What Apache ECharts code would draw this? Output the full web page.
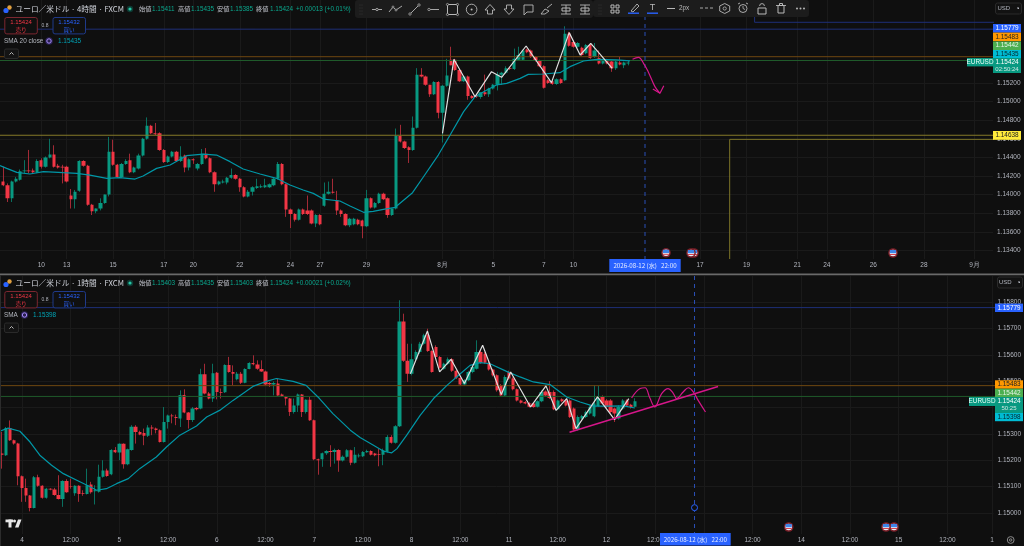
<!DOCTYPE html>
<html><head><meta charset="utf-8">
<style>html,body{margin:0;padding:0;background:#0f0f0f}#c{width:1024px;height:546px}</style>
<script src="https://cdn.jsdelivr.net/npm/echarts@6/dist/echarts.min.js"></script></head>
<body><div id="c"></div>
<script>
// ---- 4h pane: [open, close, low, high] in 1e-4 price units
const bars4h=[
[11414,11410,11409,11430],[11410,11396,11392,11412],[11396,11414,11392,11415],[11414,11417,11413,11419],[11416,11425,11415,11427],
[11425,11426,11423,11437],[11426,11425,11423,11448],[11426,11424,11423,11428],[11424,11436,11423,11438],[11437,11430,11428,11439],
[11430,11440,11429,11441],[11440,11443,11439,11460],[11443,11430,11429,11453],[11431,11429,11428,11433],[11430,11429,11412,11432],
[11430,11414,11413,11431],[11399,11395,11385,11406],[11395,11403,11385,11405],[11404,11436,11403,11437],[11436,11431,11430,11437],
[11431,11389,11388,11432],[11389,11382,11378,11390],[11382,11385,11380,11385],[11385,11391,11383,11396],[11391,11400,11390,11400],
[11400,11446,11398,11462],[11446,11432,11431,11459],[11432,11419,11418,11433],[11419,11433,11418,11434],[11433,11436,11432,11438],
[11437,11424,11423,11444],[11424,11429,11423,11430],[11428,11442,11427,11444],[11442,11460,11441,11461],[11460,11474,11459,11483],
[11474,11466,11465,11475],[11466,11465,11464,11477],[11466,11448,11447,11467],[11448,11435,11434,11449],[11435,11441,11434,11442],
[11441,11446,11440,11447],[11446,11436,11435,11447],[11436,11441,11435,11452],[11442,11429,11424,11443],[11429,11438,11426,11439],
[11438,11437,11433,11439],[11428,11433,11426,11434],[11433,11444,11432,11449],[11444,11439,11438,11450],[11439,11424,11423,11440],
[11424,11411,11403,11425],[11411,11414,11410,11415],[11413,11414,11412,11416],[11413,11418,11411,11419],[11418,11421,11417,11428],
[11421,11417,11416,11422],[11417,11408,11403,11418],[11408,11398,11397,11409],[11398,11403,11397,11405],[11403,11408,11399,11409],
[11407,11409,11406,11417],[11408,11409,11407,11411],[11408,11410,11407,11417],[11408,11411,11407,11412],[11410,11417,11409,11418],
[11417,11433,11416,11435],[11433,11411,11410,11434],[11411,11384,11376,11412],[11384,11379,11364,11385],[11379,11373,11371,11380],
[11373,11384,11372,11385],[11384,11379,11378,11385],[11383,11379,11378,11399],[11383,11369,11368,11384],[11369,11378,11365,11379],
[11378,11368,11367,11379],[11388,11401,11387,11413],[11401,11403,11400,11414],[11403,11402,11401,11417],[11394,11383,11378,11404],
[11383,11379,11376,11384],[11379,11367,11366,11380],[11367,11374,11365,11375],[11368,11374,11367,11375],[11373,11368,11367,11374],
[11372,11366,11353,11373],[11366,11396,11365,11405],[11396,11386,11385,11397],[11386,11391,11385,11392],[11391,11401,11390,11402],
[11401,11395,11394,11402],[11396,11378,11375,11397],[11378,11385,11377,11385],[11385,11463,11384,11471],[11463,11457,11456,11475],
[11457,11450,11449,11458],[11451,11448,11434,11452],[11448,11472,11447,11484],[11472,11529,11471,11536],[11529,11527,11526,11536],
[11527,11518,11517,11528],[11518,11508,11505,11518],[11508,11521,11507,11522],[11521,11488,11482,11522],[11488,11517,11456,11518],
[11517,11528,11516,11546],[11545,11539,11539,11559],[11545,11534,11533,11546],[11534,11522,11521,11535],[11522,11527,11521,11528],
[11527,11506,11502,11528],[11506,11504,11503,11507],[11507,11505,11504,11508],[11505,11510,11503,11510],[11510,11508,11506,11529],
[11508,11514,11505,11515],[11514,11518,11513,11519],[11518,11529,11512,11532],[11529,11531,11518,11532],[11531,11536,11530,11538],
[11536,11535,11534,11537],[11535,11546,11534,11557],[11545,11550,11544,11559],[11545,11555,11544,11556],[11556,11553,11552,11557],
[11555,11548,11547,11556],[11548,11544,11543,11549],[11544,11538,11537,11545],[11538,11515,11514,11539],[11523,11520,11519,11524],
[11522,11519,11518,11523],[11519,11524,11518,11525],[11524,11520,11519,11525],[11523,11573,11522,11581],[11573,11560,11559,11575],
[11564,11559,11558,11566],[11559,11563,11558,11564],[11558,11550,11549,11559],[11552,11561,11551,11562],[11561,11547,11546,11562],
[11548,11555,11547,11563],[11547,11541,11540,11555],[11541,11545,11540,11546],[11545,11541,11540,11546],[11543,11536,11532,11544],
[11536,11543,11534,11544],[11542,11540,11539,11548],[11539,11542,11536,11543],[11541,11542,11539,11544]];
// ---- 1h pane: [open, close, low, high] in 1e-5 price units
const bars1h=[
[115225,115221,115168,115307],[115219,115322,115216,115326],[115322,115276,115273,115351],[115276,115263,115259,115278],[115263,115139,115105,115266],
[115139,115095,115042,115142],[115095,115066,115042,115130],[115066,115019,115006,115068],[115019,115135,115017,115140],[115135,115103,115099,115145],
[115103,115058,115054,115105],[115058,115092,115054,115095],[115092,115089,115086,115094],[115089,115068,115065,115095],[115068,115053,115051,115143],
[115053,115121,115023,115124],[115121,115078,115076,115128],[115101,115099,115092,115130],[115075,115103,115065,115105],[115103,115072,115042,115105],
[115075,115072,115065,115086],[115072,115105,115070,115168],[115108,115078,115073,115118],[115082,115086,115032,115105],[115080,115137,115077,115183],
[115137,115161,115134,115200],[115161,115140,115137,115168],[115147,115239,115143,115242],[115239,115230,115227,115250],[115229,115262,115200,115264],
[115262,115185,115168,115264],[115185,115242,115181,115244],[115239,115327,115236,115333],[115327,115307,115263,115333],[115307,115298,115295,115312],
[115303,115293,115257,115320],[115293,115324,115288,115333],[115324,115320,115295,115333],[115320,115315,115302,115324],[115314,115269,115267,115317],
[115269,115345,115267,115402],[115345,115370,115320,115373],[115370,115367,115340,115376],[115364,115360,115333,115373],[115358,115447,115326,115465],
[115447,115381,115378,115469],[115381,115353,115320,115383],[115353,115396,115345,115402],[115398,115393,115389,115402],[115396,115526,115393,115547],
[115526,115453,115450,115566],[115453,115434,115431,115459],[115434,115530,115421,115566],[115532,115459,115431,115535],[115459,115456,115434,115472],
[115458,115561,115455,115564],[115561,115535,115532,115592],[115535,115528,115484,115560],[115507,115528,115503,115535],[115528,115494,115489,115535],
[115494,115546,115492,115549],[115546,115569,115545,115572],[115569,115564,115560,115598],[115563,115547,115543,115579],[115546,115537,115535,115579],
[115537,115487,115484,115540],[115493,115488,115478,115497],[115487,115493,115446,115499],[115491,115446,115444,115510],[115449,115443,115440,115453],
[115440,115434,115408,115444],[115434,115383,115368,115436],[115383,115408,115377,115434],[115408,115449,115383,115453],[115449,115383,115364,115451],
[115383,115429,115377,115431],[115429,115352,115349,115440],[115352,115204,115200,115354],[115204,115200,115145,115206],[115204,115226,115175,115229],
[115226,115235,115220,115238],[115235,115231,115175,115257],[115231,115239,115187,115244],[115239,115199,115156,115242],
[115199,115213,115195,115218],[115213,115238,115210,115242],[115238,115190,115181,115240],[115190,115221,115187,115250],[115215,115218,115210,115225],
[115215,115231,115212,115235],[115230,115235,115228,115240],[115235,115221,115218,115238],[115225,115219,115215,115228],[115224,115221,115177,115244],
[115221,115238,115181,115244],[115232,115288,115229,115295],[115288,115266,115263,115295],[115266,115329,115263,115333],[115329,115726,115326,115807],
[115726,115577,115573,115756],[115577,115528,115497,115642],[115528,115583,115522,115642],[115583,115611,115579,115617],[115611,115642,115604,115649],
[115642,115674,115638,115680],[115674,115614,115611,115699],[115614,115535,115532,115617],[115630,115592,115588,115636],[115592,115551,115548,115595],
[115547,115566,115543,115570],[115566,115583,115562,115590],[115583,115539,115535,115588],[115539,115512,115508,115542],[115512,115487,115484,115515],
[115487,115503,115482,115507],[115503,115535,115500,115539],[115535,115554,115530,115558],[115547,115611,115544,115655],[115611,115570,115566,115620],
[115604,115570,115566,115610],[115570,115544,115540,115575],[115544,115522,115518,115547],[115522,115465,115460,115526],[115484,115446,115442,115489],
[115446,115516,115444,115522],[115535,115510,115505,115540],[115510,115469,115465,115515],[115469,115427,115423,115472],[115427,115418,115415,115430],
[115421,115415,115412,115425],[115417,115403,115400,115420],[115415,115402,115399,115418],[115403,115424,115400,115427],[115424,115459,115420,115465],
[115461,115446,115442,115465],[115459,115436,115432,115500],[115459,115393,115390,115465],[115393,115427,115390,115430],[115431,115424,115420,115435],
[115427,115408,115404,115431],[115427,115364,115360,115431],[115396,115317,115313,115400],[115317,115364,115312,115370],[115358,115368,115355,115372],
[115364,115383,115360,115388],[115377,115402,115373,115408],[115367,115415,115363,115484],[115406,115436,115403,115482],[115440,115415,115411,115446],
[115427,115402,115398,115432],[115427,115383,115379,115432],[115396,115377,115345,115400],[115358,115402,115354,115408],[115396,115427,115392,115432],
[115427,115408,115404,115431],[115410,115402,115396,115414],[115403,115424,115403,115435]];
// ---- overlay lines: [bar index, price in 1e-5]
const sma4h=[[0.21,114311],[1.8,114282],[4.2,114239],[7.3,114221],[10.5,114246],[15.2,114235],[18.4,114228],[21.5,114210],[25.5,114175],[28.6,114182],[32.2,114167],[34.1,114200],[37.3,114282],[40.5,114318],[44.4,114418],[48.4,114436],[51.5,114425],[54.7,114354],[57.8,114275],[61.8,114221],[65.7,114175],[68.9,114103],[72,114049],[74.4,114013],[76.8,113952],[80.7,113931],[83.1,113877],[86.3,113809],[88.6,113820],[91,113841],[93.8,113863],[97.9,114020],[100.5,114192],[104,114425],[106.8,114641],[110,114892],[112.7,115053],[115.5,115125],[117.8,115179],[120.2,115196],[123.4,115250],[125.3,115293],[128.9,115297],[132.8,115311],[135.2,115376],[138.4,115437],[141.5,115455],[146.2,115448],[149.4,115437]];
const sma1h=[[-0.4,115310],[1.6,115322],[4.5,115310],[7,115269],[9.4,115219],[12.3,115181],[15.2,115149],[18.5,115124],[21.3,115103],[23.4,115086],[25.8,115092],[28.3,115111],[31.2,115130],[34,115168],[38.1,115212],[40.6,115250],[43.9,115295],[48,115330],[50.5,115364],[53.7,115389],[57,115427],[61.9,115480],[65.2,115499],[67.7,115510],[71.8,115499],[75,115484],[78.3,115434],[81.6,115377],[83.3,115352],[85.9,115314],[88.3,115286],[91.6,115257],[94.1,115234],[96.1,115228],[97.4,115244],[99.8,115295],[103.1,115370],[106.4,115434],[109.7,115484],[113,115528],[115.4,115560],[117.9,115570],[120.3,115566],[124.4,115537],[127.7,115516],[131,115497],[135.1,115487],[139.2,115440],[142.5,115421],[145.8,115405],[149,115405],[153.2,115406],[156,115398]];
const zig4h=[[105,114659],[107.7,115455],[112.7,115053],[116.6,115322],[119,115261],[124.8,115598],[130.8,115204],[135,115742],[137.6,115501],[140.1,115627],[145.2,115358]];
const zig1h=[[100.7,115528],[104.9,115690],[107.9,115535],[110.7,115583],[114,115491],[118.5,115636],[123.1,115449],[125.4,115535],[130.3,115402],[134.1,115482],[136.6,115389],[139.2,115434],[141.5,115320],[146.8,115440],[151,115354],[154.5,115434]];
const curve4h=[[150,115455],[151.4,115476],[152.6,115412],[153.7,115322],[155.3,115161],[156.5,115089]];
const arrow4h=[[154.8,115136],[156.5,115089],[157.4,115171]];
const trend1h=[[139.9,115306],[176.5,115480]];
const curve1h=[[155.2,115436],[157.3,115472],[158.5,115475],[159.7,115436],[160.9,115402],[162.6,115453],[164.2,115472],[165.5,115453],[166.3,115434],[167.9,115459],[169.2,115475],[170.4,115459],[171.6,115427],[173.4,115383]];
const corner4hYellow=[[173,113307],[173,114594],[236,114594]];
const corner4hBlue=[[178.9,116093],[178.9,115853],[236,115853]];
const vLine4h=[[152.95,116093],[152.95,113307]];
const vLine1h=[[170.7,115899],[170.7,114920]];
const marker1h=[[170.7,115020]];
const levels4h=[[115779,'#1e2f78'],[115483,'#6e4710'],[115442,'#1f5a2a'],[114638,'#857a28']];
const levels1h=[[115779,'#1e2f78'],[115483,'#6e4710'],[115442,'#1f5a2a']];
// ---- axis ticks
const ticks4h=[[10,'10'],[16,'13'],[27,'15'],[39,'17'],[46,'20'],[57,'22'],[69,'24'],[76,'27'],[87,'29'],[105,'8月'],[117,'5'],[129,'7'],[136,'10'],[166,'17'],[177,'19'],[189,'21'],[196,'24'],[207,'26'],[219,'28'],[231,'9月']];
const ticks1h=[[5,'4'],[17,'12:00'],[29,'5'],[41,'12:00'],[53,'6'],[65,'12:00'],[77,'7'],[89,'12:00'],[101,'8'],[113,'12:00'],[125,'11'],[137,'12:00'],[149,'12'],[161,'12:00'],[173,'13'],[185,'12:00'],[197,'14'],[209,'12:00'],[221,'15'],[233,'12:00'],[244,'1']];
const prices4h=[1.134,1.136,1.138,1.14,1.142,1.144,1.146,1.148,1.15,1.152];
const prices1h=[1.15,1.151,1.152,1.153,1.154,1.155,1.156,1.157,1.158];

const UP='#089981',DN='#f23645',UPW='#0a6f5f',DNW='#a32a36',BG='#0f0f0f',GRID='#1a1a1a',TXT='#b2b5be',MAG='#d6168a',TEAL='#0097a7';
const SANS='"Liberation Sans",Arial,sans-serif',JP='"Noto Sans CJK JP",sans-serif';
const pr=p=>[p[0],p[1]/1e5];
function line(xi,pts,color,w,extra){return Object.assign({type:'line',xAxisIndex:xi,yAxisIndex:xi,data:pts.map(pr),symbol:'none',silent:true,animation:false,lineStyle:{color,width:w},z:3},extra||{})}
// wicks are one thin candlestick layer, bodies a second layer with no outline
function candles(xi,bars,base,div){const data=bars.map((b,i)=>[i+base,b[0]/div,b[1]/div,b[2]/div,b[3]/div]);
 const common={type:'candlestick',xAxisIndex:xi,yAxisIndex:xi,animation:false,silent:true,encode:{x:0,y:[1,2,3,4]},data};
 return [Object.assign({},common,{barWidth:1,z:2,itemStyle:{color:UPW,color0:DNW,borderColor:UPW,borderColor0:DNW,borderWidth:1}}),
         Object.assign({},common,{barWidth:3.8,z:2.5,itemStyle:{color:UP,color0:DN,borderWidth:0,borderColor:UP,borderColor0:DN}})];}
function xAxis(gi,min,max,ticks){const m=new Map(ticks);const v=ticks.map(t=>t[0]);return {type:'value',gridIndex:gi,min,max,
 axisLine:{show:false},axisTick:{show:false,customValues:v},splitLine:{show:true,lineStyle:{color:GRID,width:1}},
 axisLabel:{customValues:v,color:TXT,fontSize:6.5,fontFamily:SANS,margin:3,formatter:x=>m.get(x)||''}}}
function yAxis(gi,min,max,vals){return {type:'value',gridIndex:gi,position:'right',min,max,axisLine:{show:false},axisTick:{show:false,customValues:vals},
 splitLine:{show:true,lineStyle:{color:GRID,width:1}},axisLabel:{customValues:vals,color:TXT,fontSize:6.5,fontFamily:SANS,margin:4,formatter:v=>v.toFixed(5)}}}

const series=[
 ...levels4h.map(l=>line(0,[[0,l[0]],[236,l[0]]],l[1],1)),
 line(0,corner4hYellow,'#7d7428',1),line(0,corner4hBlue,'#1e2f78',1),
 ...candles(0,bars4h,1,1e4),
 line(0,sma4h,TEAL,1.2,{z:4}),
 line(0,vLine4h,'#2a50b8',1,{lineStyle:{color:'#2a50b8',width:1,type:[4,4]}}),
 line(0,zig4h,'#e0e0e0',1.2,{z:5}),
 line(0,curve4h,MAG,1.2,{smooth:0.4,z:5}),line(0,arrow4h,MAG,1.2,{z:5}),
 ...levels1h.map(l=>line(1,[[-1,l[0]],[245,l[0]]],l[1],1)),
 ...candles(1,bars1h,0,1e5),
 line(1,sma1h,TEAL,1.2,{z:4}),
 line(1,vLine1h,'#2a50b8',1,{lineStyle:{color:'#2a50b8',width:1,type:[4,4]}}),
 line(1,marker1h,'#2962ff',1,{symbol:'circle',symbolSize:6,showSymbol:true,showAllSymbol:true,itemStyle:{color:BG,borderColor:'#2962ff',borderWidth:1},z:6}),
 line(1,zig1h,'#e0e0e0',1.2,{z:5}),
 line(1,trend1h,MAG,1.5,{z:5}),line(1,curve1h,MAG,1.2,{smooth:0.4,z:5})
];

// ---- chrome drawn as graphic elements
const G=[];
const R=(x,y,w,h,fill,stroke,r)=>G.push({type:'rect',shape:{x,y,width:w,height:h,r:r||0},style:{fill:fill||'none',stroke:stroke||'none',lineWidth:1},silent:true});
const T=(x,y,text,fill,size,opt)=>{opt=opt||{};G.push({type:'text',style:{x,y,text,fill,fontSize:size,fontFamily:opt.f||SANS,fontWeight:opt.w||'normal',textAlign:opt.a||'left',textVerticalAlign:'middle'},silent:true})};
const P=(pts,stroke,w,fill)=>G.push({type:fill?'polygon':'polyline',shape:{points:pts},style:{stroke:stroke||'none',lineWidth:w||1,fill:fill||'none'},silent:true});
const C=(x,y,r,fill,stroke,w)=>G.push({type:'circle',shape:{cx:x,cy:y,r},style:{fill:fill||'none',stroke:stroke||'none',lineWidth:w||1},silent:true});

function tag(x,y,w,h,bg,fg,t,sub){R(x,y,w,h,bg);T(x+w/2,sub?y+4.2:y+h/2,t,fg,6.4,{a:'center'});if(sub)T(x+w/2,y+11,sub,'#cfe7e2',6,{a:'center'})}
tag(993,24,28,8.6,'#2962ff','#fff','1.15779');
tag(993,32.6,28,8.6,'#ff9800','#222','1.15483');
tag(993,41.4,28,8.6,'#4caf50','#e8f5e9','1.15442');
tag(993,50,28,8.2,'#00bcd4','#06262b','1.15435');
tag(993,58,28,15,UP,'#fff','1.15424','02:50:24');
tag(967,58,26,8.4,UP,'#e8fff9','EURUSD');
tag(993,131,28,8.8,'#ffeb3b','#222','1.14638');
tag(995,303.6,28,8.4,'#2962ff','#fff','1.15779');
tag(995,380.3,28,8.4,'#ff9800','#222','1.15483');
tag(995,388.7,28,8.4,'#4caf50','#e8f5e9','1.15442');
tag(995,397,28,16,UP,'#fff','1.15424','50:25');
tag(969,397,26,9,UP,'#e8fff9','EURUSD');
tag(995,413,28,8.2,'#00bcd4','#06262b','1.15398');
R(995.5,3,26,11,'#121212','#2a2a2a',2);T(997.5,8.5,'USD',TXT,6);P([[1017,8],[1019,8],[1018,9]],TXT,1);
R(997.5,277,25,11,'#121212','#2a2a2a',2);T(999,282.5,'USD',TXT,6);P([[1018,282],[1020,282],[1019,283]],TXT,1);
R(0,273.5,1024,1.8,'#6a6a6a');R(0,275,1,271,'#2c2c2c');
R(609.3,259,71.4,13,'#2962ff');T(645,265.5,'2026-08-12 (水)   22:00','#e8edff',6.2,{a:'center',f:JP});
R(660,533,70.7,12.6,'#2962ff');T(695.4,539.3,'2026-08-12 (水)   22:00','#e8edff',6.2,{a:'center',f:JP});
function flag(x,y){C(x,y,4.8,'#7a1f28');C(x,y,3.3,'#e9edf5');R(x-3.1,y-3,6.2,3.2,'#3f86e8');R(x-3,y+1,6,1,'#d8414f')}
[[666,252.8],[694,253],[691,253],[893,253],[788.7,527],[894,527],[886,527]].forEach(f=>flag(f[0],f[1]));
function header(y,title,vals,smaName,smaVal,dotX,valX){
 C(6,y+1.5,2.6,'#2962ff');C(9.5,y-1.5,2.2,'#e0a040');
 T(15.5,y,title,'#d1d4dc',7.7,{f:JP});
 C(130,y,3.2,'#0d3a33');C(130,y,1.6,'#26c6a6');
 const lab=[['始値',139,152],['高値',178,191],['安値',217,230],['終値',256,270]];
 lab.forEach((l,i)=>{T(l[1],y,l[0],'#c0c3cb',6.2,{f:JP});T(l[2],y,vals[i],'#0aa78d',6.4)});
 T(296,y,vals[4],'#0aa78d',6.4);
 const yy=y+16.7;
 R(4.8,yy-8.2,32.5,16.4,'#101010','#7c2730',2);T(21,yy-3.2,'1.15424','#f23645',6,{a:'center'});T(21,yy+3.8,'売り','#f23645',5.6,{a:'center',f:JP});
 T(45,yy,'0.8',TXT,5,{a:'center'});
 R(53,yy-8.2,32.5,16.4,'#101010','#1f3a8a',2);T(69,yy-3.2,'1.15432','#2962ff',6,{a:'center'});T(69,yy+3.8,'買い','#2962ff',5.6,{a:'center',f:JP});
 const sy=y+32;
 T(4,sy,smaName,'#b4b7bf',6.4);
 C(dotX,sy,3.8,'#2a2150');C(dotX,sy,2.2,'none','#a78bfa',1);
 T(valX,sy,smaVal,'#00a3b5',6.4);
 R(4.5,sy+8,14,9.5,'#141414','#2a2a2a',1.5);P([[9.5,sy+13.5],[11.5,sy+11.5],[13.5,sy+13.5]],'#c8c8c8',0.9);
}
header(9,'ユーロ／米ドル · 4時間 · FXCM',['1.15411','1.15435','1.15385','1.15424','+0.00013 (+0.01%)'],'SMA 20 close','1.15435',49,58);
header(283,'ユーロ／米ドル · 1時間 · FXCM',['1.15403','1.15435','1.15403','1.15424','+0.00021 (+0.02%)'],'SMA','1.15398',24.5,33);
R(5.5,519.5,7.5,2.8,'#e8e8e8');R(8.5,519.5,3,8,'#e8e8e8');C(14.5,521,1.5,'#e8e8e8');P([[15,527.5],[18,519.5],[21.5,519.5],[18.5,527.5]],null,1,'#e8e8e8');
C(1010.7,540,3.4,'none','#8a8a8a',1);C(1010.7,540,1.2,'none','#8a8a8a',1);
R(355,0,238,18,'#1c1c1c',null,3);R(593,0,216,17,'#1c1c1c',null,3);
const I='#b8b8b8';
[360,362].forEach(x=>[5,8,11,14].forEach(y=>C(x,y,.4,'#555')));
P([[372,9.5],[382,9.5]],I,.9);C(377,9.5,1.2,'#1c1c1c',I,.8);
P([[389,12],[393,7],[396,10],[402,6]],I,.9);C(393,7,1,'#1c1c1c',I,.7);C(396,10,1,'#1c1c1c',I,.7);
P([[410,14],[419,5]],I,.9);C(410,14,1.2,'#1c1c1c',I,.7);C(419,5,1.2,'#1c1c1c',I,.7);
P([[429,9.5],[439,9.5]],I,.9);C(429,9.5,1.2,'#1c1c1c',I,.7);
R(447.5,4.5,10,10,null,I);[[447.5,4.5],[457.5,4.5],[447.5,14.5],[457.5,14.5]].forEach(p=>C(p[0],p[1],1.1,'#1c1c1c',I,.7));
C(471.6,9.5,5.3,null,I,.9);C(471.6,9.5,1,I);
P([[490,4.5],[495,10],[492.5,10],[492.5,14],[487.5,14],[487.5,10],[485,10],[490,4.5]],I,.9);
P([[509,14.5],[514,9],[511.5,9],[511.5,5],[506.5,5],[506.5,9],[504,9],[509,14.5]],I,.9);
P([[524,5],[533,5],[533,12],[527,12],[524,15],[524,5]],I,.9);
P([[541,14],[545,9],[549,11],[545,14],[541,14]],I,.9);P([[547,8],[552,4]],I,.9);
P([[561,5],[571,5]],I,.9);P([[566,5],[566,14]],I,.9);R(562,8,8,3,null,I);P([[561,14],[571,14]],I,.9);
P([[580,5],[590,5]],I,.9);P([[585,5],[585,14]],I,.9);R(581,8,8,3,null,I);P([[580,14],[590,14]],I,.9);
[599,601].forEach(x=>[5,8,11,14].forEach(y=>C(x,y,.4,'#555')));
R(611,5,3,3,null,I);R(616,5,3,3,null,I);R(611,10,3,3,null,I);R(616,10,3,3,null,I);
P([[631,11],[637,4],[639,6],[633,12],[631,11]],I,.9);R(628,12.5,11,1.4,'#2962ff');
T(652.5,7.5,'T',I,9,{a:'center'});R(647,12.5,11,1.4,'#2962ff');
R(667,8,8,1,I);T(679,8.5,'2px',I,6.3);
P([[700,8],[703,8]],I,.9);P([[705,8],[708,8]],I,.9);P([[710,8],[713,8]],I,.9);
P([[724.7,3.5],[729.7,6],[729.7,11],[724.7,13.5],[719.7,11],[719.7,6],[724.7,3.5]],I,.9);C(724.7,8.5,1.6,null,I,.8);
C(743,8.5,4,null,I,.9);P([[743,6],[743,8.5],[745,9.5]],I,.8);P([[738,4],[740,3]],I,.9);P([[746,3],[748,4]],I,.9);
R(758,8,8,6,null,I);G.push({type:'arc',shape:{cx:762,cy:6,r:2.4,startAngle:Math.PI,endAngle:0},style:{stroke:I,lineWidth:.9,fill:'none'},silent:true});
P([[776,5.5],[786,5.5]],I,.9);R(778,5.5,6,7.5,null,I);R(779.5,3.5,3,2,null,I);
[797,800.5,804].forEach(x=>C(x,8.5,1,I));

const chart=echarts.init(document.getElementById('c'),null,{renderer:'canvas'});
chart.setOption({backgroundColor:BG,animation:false,tooltip:{show:false},legend:{show:false},
 grid:[{left:0,top:0,width:993,height:259},{left:0,top:276,width:995,height:258}],
 xAxis:[xAxis(0,0.22,235.35,ticks4h),xAxis(1,-0.41,244.36,ticks1h)],
 yAxis:[yAxis(0,1.13307,1.160928,prices4h),yAxis(1,1.1492,1.15899,prices1h)],
 series,graphic:{elements:G.map(e=>Object.assign({z:100},e))}});
</script></body></html>
